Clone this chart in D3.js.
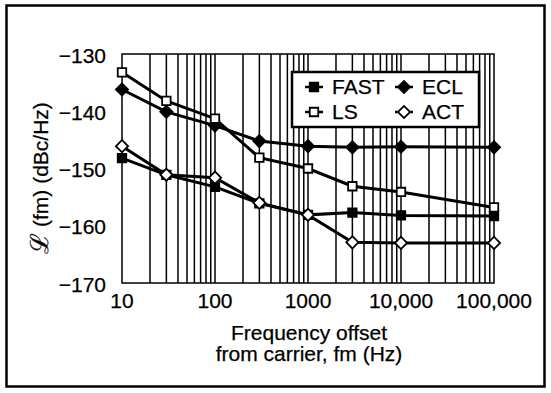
<!DOCTYPE html>
<html>
<head>
<meta charset="utf-8">
<script src="https://cdn.jsdelivr.net/npm/d3@7"></script>
<style>
  body { margin: 0; background: #fff; }
  svg { display: block; font-family: "Liberation Sans", Arial, sans-serif; }
  text { fill: #000; stroke: #000; stroke-width: 0.25px; }
</style>
</head>
<body>
<svg id="chart" width="551" height="393"></svg>
<script>
// frequency offsets (Hz)
const offsets = [10, 30, 100, 300, 1000, 3000, 10000, 100000]
// phase noise, dBc/Hz
const fast = [-148.2, -151.1, -153.2, -156.1, -158.1, -157.7, -158.2, -158.3]
const ecl = [-136.2, -140.1, -142.5, -145.2, -146.1, -146.3, -146.2, -146.3]
const ls = [-133.2, -138.2, -141.3, -148.1, -150.0, -153.1, -154.1, -156.8]
const act = [-146.1, -151.1, -151.6, -156.0, -158.1, -162.9, -163.0, -163.0]
const yTicks = [-170, -160, -150, -140, -130]
const xTickValues = [10, 100, 1000, 10000, 100000]
const xTickLabels = ["10", "100", "1000", "10,000", "100,000"]

const series = [
    { name: "FAST", values: fast, shape: "square", filled: true },
    { name: "ECL", values: ecl, shape: "diamond", filled: true },
    { name: "LS", values: ls, shape: "square", filled: false },
    { name: "ACT", values: act, shape: "diamond", filled: false }
]

const width = 551
const height = 393
const margin = { top: 54, right: 57, bottom: 110, left: 122 }

const svg = d3.select("#chart")

// outer frame
svg.append("rect")
    .attr("x", 6.5).attr("y", 5.5)
    .attr("width", 538).attr("height", 381)
    .attr("fill", "none").attr("stroke", "#000").attr("stroke-width", 2.5)

const x = d3.scaleLog()
    .domain([10, 100000])
    .range([margin.left, width - margin.right])
const y = d3.scaleLinear()
    .domain([-170, -130])
    .range([height - margin.bottom, margin.top])

// vertical log grid
svg.append("g")
    .selectAll("line")
    .data(x.ticks().filter(t => t > 10 && t < 100000))
    .join("line")
    .attr("x1", d => x(d)).attr("x2", d => x(d))
    .attr("y1", y(-130)).attr("y2", y(-170))
    .attr("stroke", "#000").attr("stroke-width", 1.5)

// plot frame
svg.append("rect")
    .attr("x", x(10)).attr("y", y(-130))
    .attr("width", x(100000) - x(10)).attr("height", y(-170) - y(-130))
    .attr("fill", "none").attr("stroke", "#000").attr("stroke-width", 1.5)

// y tick labels
svg.append("g")
    .selectAll("text")
    .data(yTicks)
    .join("text")
    .attr("x", 106)
    .attr("y", d => y(d) + 3)
    .attr("text-anchor", "end")
    .attr("dominant-baseline", "middle")
    .style("font-size", "21px")
    .text(d => d3.format("d")(d).replace("-", "\u2212"))

// x tick labels
svg.append("g")
    .selectAll("text")
    .data(xTickValues)
    .join("text")
    .attr("x", d => x(d))
    .attr("y", 308)
    .attr("text-anchor", "middle")
    .style("font-size", "21px")
    .text((d, i) => xTickLabels[i])

// axis titles
svg.append("text")
    .attr("x", 309).attr("y", 340)
    .attr("text-anchor", "middle")
    .style("font-size", "21px")
    .text("Frequency offset")
svg.append("text")
    .attr("x", 309).attr("y", 361)
    .attr("text-anchor", "middle")
    .style("font-size", "21px")
    .text("from carrier, fm (Hz)")
const ytitle = svg.append("text")
    .attr("transform", "translate(48,178) rotate(-90)")
    .attr("text-anchor", "middle")
    .style("font-size", "21px")
ytitle.append("tspan")
    .style("font-family", "'DejaVu Serif', serif")
    .style("font-size", "25px")
    .text("\u2112")
ytitle.append("tspan").text(" (fm) (dBc/Hz)")

const line = d3.line()
    .x(d => x(d[0]))
    .y(d => y(d[1]))

// square, and the same square turned 45 degrees for the diamonds
const sym = {
    square: { d: d3.symbol().type(d3.symbolSquare).size(72)(), rot: 0 },
    diamond: { d: d3.symbol().type(d3.symbolSquare).size(74)(), rot: 45 }
}

// lines
svg.append("g")
    .selectAll("path")
    .data(series)
    .join("path")
    .attr("d", s => line(offsets.map((o, i) => [o, s.values[i]])))
    .attr("fill", "none")
    .attr("stroke", "#000")
    .attr("stroke-width", 3)

// markers
series.forEach(s => {
    svg.append("g")
        .selectAll("path")
        .data(offsets.map((o, i) => [o, s.values[i]]))
        .join("path")
        .attr("transform", d => `translate(${x(d[0])},${y(d[1])}) rotate(${sym[s.shape].rot})`)
        .attr("d", sym[s.shape].d)
        .attr("fill", s.filled ? "#000" : "#fff")
        .attr("stroke", "#000")
        .attr("stroke-width", 1.8)
})

// legend
const legend = svg.append("g")
legend.append("rect")
    .attr("x", 292).attr("y", 72)
    .attr("width", 187).attr("height", 55)
    .attr("fill", "#fff").attr("stroke", "#000").attr("stroke-width", 2.5)

const legendPos = [[314, 87], [404, 87], [314, 112], [404, 112]]
series.forEach((s, i) => {
    const [cx, cy] = legendPos[i]
    const g = legend.append("g").attr("transform", `translate(${cx},${cy})`)
    g.append("line")
        .attr("x1", -9).attr("x2", 9)
        .attr("stroke", "#000").attr("stroke-width", 2.5)
    g.append("path")
        .attr("d", sym[s.shape].d)
        .attr("transform", `rotate(${sym[s.shape].rot})`)
        .attr("fill", s.filled ? "#000" : "#fff")
        .attr("stroke", "#000").attr("stroke-width", 1.8)
    g.append("text")
        .attr("x", 18).attr("y", 1)
        .attr("dominant-baseline", "middle")
        .style("font-size", "21px")
        .text(s.name)
})
</script>
</body>
</html>
